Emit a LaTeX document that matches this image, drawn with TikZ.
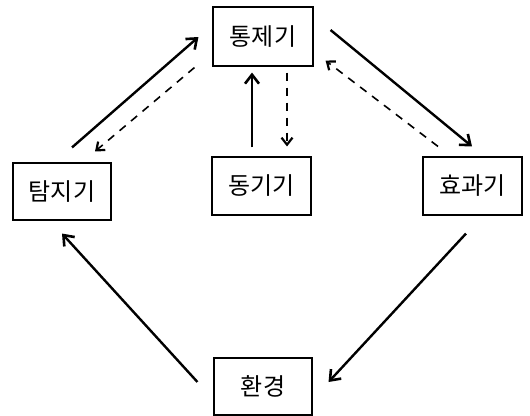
\documentclass[tikz,border=0pt]{standalone}
\usepackage{fontspec}
\newfontfamily\kor{Noto Sans CJK KR}
\usetikzlibrary{arrows.meta}
\begin{document}
\begin{tikzpicture}[x=1pt,y=-1pt,
  box/.style={draw,line width=1.1pt,minimum width=98pt,minimum height=57pt,inner sep=0pt,font=\kor\fontsize{24}{28}\selectfont},
  solidarr/.style={line width=2.4pt,-{Straight Barb[length=9pt,width=14pt,line width=2.6pt]}},
  dasharr/.style={line width=1.6pt,dash pattern=on 8pt off 7pt,-{Straight Barb[length=7pt,width=11pt,line width=2.2pt]}}
]
\useasboundingbox (0,0) rectangle (530,415);
\node[box,minimum width=100pt,minimum height=59pt] (tong) at (263,36.5) {통제기};
\node[box] (tam) at (62,191.5) {탐지기};
\node[box,minimum width=99pt,minimum height=58pt] (dong) at (261.5,186) {동기기};
\node[box,minimum width=99pt,minimum height=58pt] (hyo) at (472.5,186) {효과기};
\node[box] (hwan) at (263,386.5) {환경};

\draw[solidarr] ([shift={(10,-15)}]tam.north) -- ([shift={(-14,0.5)}]tong.west);
\draw[dasharr] ([shift={(-18,1)}]tong.south west) -- ([shift={(33,-11)}]tam.north);
\draw[solidarr] ([shift={(-9.5,-9)}]dong.north) -- ([shift={(-11,6)}]tong.south);
\draw[dasharr] ([shift={(24,6)}]tong.south) -- ([shift={(25.5,-10)}]dong.north);
\draw[solidarr] ([shift={(17,-6.5)}]tong.east) -- ([shift={(-0.5,-10)}]hyo.north);
\draw[dasharr] ([shift={(-34.5,-10)}]hyo.north) -- ([shift={(12,-6)}]tong.south east);
\draw[solidarr] ([shift={(-6.5,18)}]hyo.south) -- ([shift={(16,-4.5)}]hwan.east);
\draw[solidarr] ([shift={(-16,-4.5)}]hwan.west) -- ([shift={(0,13)}]tam.south);
\end{tikzpicture}
\end{document}
